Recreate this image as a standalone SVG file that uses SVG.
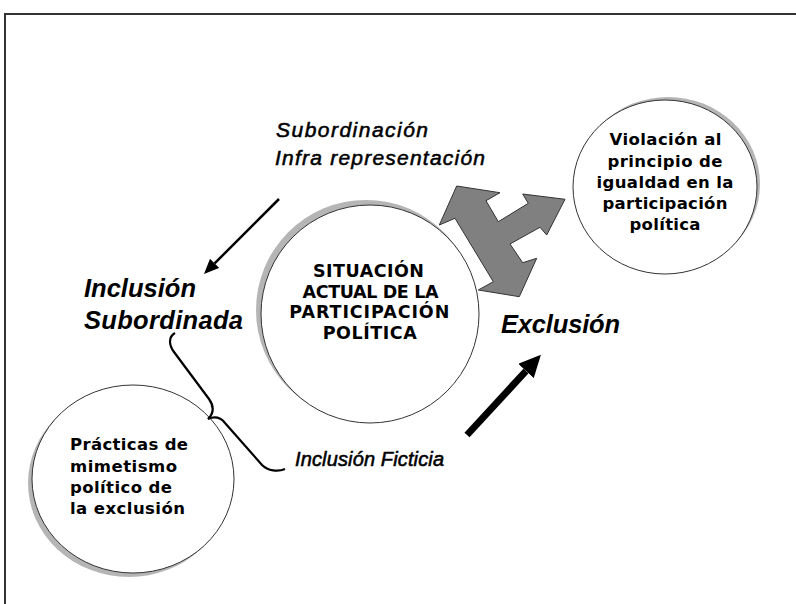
<svg xmlns="http://www.w3.org/2000/svg" width="796" height="604" viewBox="0 0 796 604">
<style>
.circ{fill:#fff;stroke:#333;stroke-width:1}
.shadow{fill:#b5b5b5}
.nt{font-family:"DejaVu Sans",Verdana,sans-serif;font-weight:bold;fill:#000}
.lbl{font-family:"Liberation Sans",Arial,sans-serif;font-style:italic;fill:#000}
.big{font-weight:bold;font-size:25.5px}
.sm{font-size:21px;stroke:#000;stroke-width:0.55}
.sm2{font-size:20px;stroke:#000;stroke-width:0.55}
</style>
<defs>
<marker id="hThin" markerUnits="userSpaceOnUse" markerWidth="15" markerHeight="13" refX="0" refY="6.5" orient="auto">
<path d="M0,0 L15,6.5 L0,13 z" fill="#000"/>
</marker>
<marker id="hThick" markerUnits="userSpaceOnUse" markerWidth="22" markerHeight="21" refX="0" refY="10.5" orient="auto">
<path d="M0,0 L22,10.5 L0,21 z" fill="#000"/>
</marker>
</defs>
<rect width="796" height="604" fill="#fff"/>
<g id="frame" fill="none" stroke="#333" stroke-width="2">
<path d="M5,604 L5,14 L796,14"/>
</g>
<g id="n-center">
<circle class="shadow" cx="366" cy="310" r="110"/>
<circle class="circ" cx="370" cy="314" r="109"/>
<text class="nt" font-size="17.5" text-anchor="middle"><tspan x="368.5" y="277" textLength="111" lengthAdjust="spacing">SITUACIÓN</tspan><tspan x="370.5" y="297.5" textLength="136" lengthAdjust="spacing">ACTUAL DE LA</tspan><tspan x="369.3" y="318.3" textLength="160" lengthAdjust="spacing">PARTICIPACIÓN</tspan><tspan x="369.7" y="339" textLength="94" lengthAdjust="spacing">POLÍTICA</tspan></text>
</g>
<g id="n-right">
<ellipse class="shadow" cx="668" cy="184" rx="92" ry="87"/>
<ellipse class="circ" cx="665" cy="187" rx="92" ry="87"/>
<text class="nt" font-size="16.5" text-anchor="middle"><tspan x="665.5" y="145.3" textLength="112" lengthAdjust="spacing">Violación al</tspan><tspan x="665" y="166.5" textLength="115" lengthAdjust="spacing">principio de</tspan><tspan x="665" y="187.7" textLength="137" lengthAdjust="spacing">igualdad en la</tspan><tspan x="665" y="208.9" textLength="125" lengthAdjust="spacing">participación</tspan><tspan x="665" y="230" textLength="71" lengthAdjust="spacing">política</tspan></text>
</g>
<g id="n-left">
<ellipse class="shadow" cx="129" cy="483" rx="101" ry="94"/>
<ellipse class="circ" cx="133" cy="479" rx="101" ry="94"/>
<text class="nt" font-size="16.5"><tspan x="70" y="450" textLength="118" lengthAdjust="spacing">Prácticas de</tspan><tspan x="70" y="471.5" textLength="107" lengthAdjust="spacing">mimetismo</tspan><tspan x="70" y="492.7" textLength="102" lengthAdjust="spacing">político de</tspan><tspan x="70" y="514" textLength="115" lengthAdjust="spacing">la exclusión</tspan></text>
</g>
<g id="n-threeway">
<polygon points="456.7,186 500,192.7 486,200.7 498.3,221.7 528.3,203.3 522.7,194 565,199.3 546.7,235 540,227.3 510,244 522.7,262.7 536.7,258.3 519.3,296.7 478.3,290 493.3,281.7 455,218.3 439.3,225" fill="#808080" stroke="#333" stroke-width="1" stroke-linejoin="miter"/>
</g>
<g id="labels">
<text class="lbl sm" x="276" y="137" textLength="152" lengthAdjust="spacing">Subordinación</text>
<text class="lbl sm" x="275" y="165" textLength="210" lengthAdjust="spacing">Infra representación</text>
<text class="lbl big" x="84" y="297" textLength="112" lengthAdjust="spacing">Inclusión</text>
<text class="lbl big" x="84" y="328.5" textLength="159" lengthAdjust="spacing">Subordinada</text>
<text class="lbl big" x="501" y="333.3" textLength="119" lengthAdjust="spacing">Exclusión</text>
<text class="lbl sm2" x="295" y="466" textLength="149" lengthAdjust="spacing">Inclusión Ficticia</text>
</g>
<g id="connectors" fill="none" stroke="#000">
<line x1="279" y1="199" x2="214.6" y2="263.4" stroke-width="2.5" marker-end="url(#hThin)"/>
<line x1="467" y1="435" x2="526" y2="371" stroke-width="7" marker-end="url(#hThick)"/>
<path d="M175,333 C168,337 169,345 174,352 L209,399 C214,406 214,413 208,419 C215,416 221,418 225,423 L262,465 C268,471 278,472 285,469" stroke-width="2.2"/>
</g>
</svg>
